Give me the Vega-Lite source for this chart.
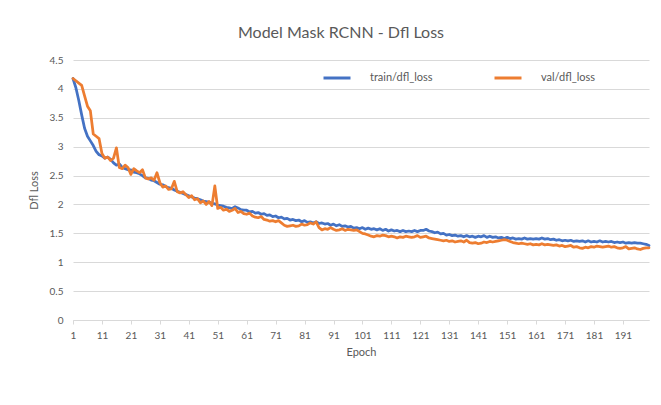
{
  "$schema": "https://vega.github.io/schema/vega-lite/v6.json",
  "width": 576,
  "height": 260,
  "autosize": {"type": "none"},
  "padding": {"left": 73, "top": 60, "right": 12, "bottom": 85},
  "background": "white",
  "config": {
    "font": "Lato",
    "view": {"stroke": null},
    "axis": {"labelColor": "#595959", "titleColor": "#595959", "labelFontSize": 10, "titleFontSize": 11, "titleFontWeight": "normal", "labelFont": "Lato", "titleFont": "Lato"}
  },
  "title": {"text": "Model Mask RCNN - Dfl Loss", "fontSize": 16, "fontWeight": "normal", "color": "#595959", "font": "Lato", "offset": 14, "anchor": "middle", "dx": -20},
  "data": {"values": [
{"epoch":1,"train":4.18,"val":4.18},{"epoch":2,"train":4.02,"val":4.14},{"epoch":3,"train":3.8,"val":4.1},{"epoch":4,"train":3.55,"val":4.06},{"epoch":5,"train":3.32,"val":3.88},
{"epoch":6,"train":3.18,"val":3.7},{"epoch":7,"train":3.1,"val":3.62},{"epoch":8,"train":3.02,"val":3.22},{"epoch":9,"train":2.92,"val":3.18},{"epoch":10,"train":2.86,"val":3.14},
{"epoch":11,"train":2.84,"val":2.88},{"epoch":12,"train":2.8,"val":2.8},{"epoch":13,"train":2.82,"val":2.82},{"epoch":14,"train":2.78,"val":2.76},{"epoch":15,"train":2.72,"val":2.8},
{"epoch":16,"train":2.68,"val":2.98},{"epoch":17,"train":2.7,"val":2.64},{"epoch":18,"train":2.64,"val":2.62},{"epoch":19,"train":2.62,"val":2.68},{"epoch":20,"train":2.6,"val":2.64},
{"epoch":21,"train":2.6,"val":2.52},{"epoch":22,"train":2.56,"val":2.62},{"epoch":23,"train":2.55,"val":2.58},{"epoch":24,"train":2.53,"val":2.55},{"epoch":25,"train":2.5,"val":2.6},
{"epoch":26,"train":2.46,"val":2.46},{"epoch":27,"train":2.45,"val":2.44},{"epoch":28,"train":2.42,"val":2.46},{"epoch":29,"train":2.41,"val":2.42},{"epoch":30,"train":2.38,"val":2.55},
{"epoch":31,"train":2.35,"val":2.38},{"epoch":32,"train":2.34,"val":2.3},{"epoch":33,"train":2.31,"val":2.32},{"epoch":34,"train":2.29,"val":2.26},{"epoch":35,"train":2.28,"val":2.27},
{"epoch":36,"train":2.25,"val":2.4},{"epoch":37,"train":2.23,"val":2.22},{"epoch":38,"train":2.21,"val":2.2},{"epoch":39,"train":2.19,"val":2.22},{"epoch":40,"train":2.17,"val":2.17},
{"epoch":41,"train":2.15,"val":2.12},{"epoch":42,"train":2.13,"val":2.15},{"epoch":43,"train":2.11,"val":2.08},{"epoch":44,"train":2.1,"val":2.1},{"epoch":45,"train":2.08,"val":2.03},
{"epoch":46,"train":2.06,"val":2.06},{"epoch":47,"train":2.05,"val":2.0},{"epoch":48,"train":2.04,"val":2.05},{"epoch":49,"train":2.02,"val":1.98},{"epoch":50,"train":2.01,"val":2.32},
{"epoch":51,"train":1.99,"val":1.93},{"epoch":52,"train":1.98,"val":1.95},{"epoch":53,"train":1.97,"val":1.9},{"epoch":54,"train":1.95,"val":1.92},{"epoch":55,"train":1.94,"val":1.88},
{"epoch":56,"train":1.93,"val":1.9},{"epoch":57,"train":1.96,"val":1.93},{"epoch":58,"train":1.94,"val":1.86},{"epoch":59,"train":1.91,"val":1.88},{"epoch":60,"train":1.9,"val":1.84},
{"epoch":61,"train":1.9,"val":1.83},{"epoch":62,"train":1.87,"val":1.85},{"epoch":63,"train":1.88,"val":1.8},{"epoch":64,"train":1.85,"val":1.78},{"epoch":65,"train":1.86,"val":1.77},
{"epoch":66,"train":1.83,"val":1.79},{"epoch":67,"train":1.84,"val":1.74},{"epoch":68,"train":1.81,"val":1.73},{"epoch":69,"train":1.82,"val":1.71},{"epoch":70,"train":1.79,"val":1.72},
{"epoch":71,"train":1.8,"val":1.7},{"epoch":72,"train":1.77,"val":1.72},{"epoch":73,"train":1.78,"val":1.68},{"epoch":74,"train":1.75,"val":1.64},{"epoch":75,"train":1.76,"val":1.62},
{"epoch":76,"train":1.73,"val":1.63},{"epoch":77,"train":1.74,"val":1.64},{"epoch":78,"train":1.72,"val":1.62},{"epoch":79,"train":1.73,"val":1.63},{"epoch":80,"train":1.7,"val":1.66},
{"epoch":81,"train":1.72,"val":1.64},{"epoch":82,"train":1.69,"val":1.65},{"epoch":83,"train":1.7,"val":1.68},{"epoch":84,"train":1.68,"val":1.66},{"epoch":85,"train":1.7,"val":1.7},
{"epoch":86,"train":1.67,"val":1.6},{"epoch":87,"train":1.68,"val":1.56},{"epoch":88,"train":1.66,"val":1.58},{"epoch":89,"train":1.67,"val":1.57},{"epoch":90,"train":1.64,"val":1.6},
{"epoch":91,"train":1.66,"val":1.57},{"epoch":92,"train":1.63,"val":1.55},{"epoch":93,"train":1.65,"val":1.56},{"epoch":94,"train":1.62,"val":1.58},{"epoch":95,"train":1.63,"val":1.55},
{"epoch":96,"train":1.61,"val":1.57},{"epoch":97,"train":1.62,"val":1.56},{"epoch":98,"train":1.59,"val":1.55},{"epoch":99,"train":1.6,"val":1.56},{"epoch":100,"train":1.58,"val":1.53},
{"epoch":101,"train":1.6,"val":1.5},{"epoch":102,"train":1.57,"val":1.49},{"epoch":103,"train":1.59,"val":1.47},{"epoch":104,"train":1.57,"val":1.45},{"epoch":105,"train":1.58,"val":1.44},
{"epoch":106,"train":1.56,"val":1.46},{"epoch":107,"train":1.58,"val":1.45},{"epoch":108,"train":1.55,"val":1.47},{"epoch":109,"train":1.57,"val":1.46},{"epoch":110,"train":1.54,"val":1.44},
{"epoch":111,"train":1.56,"val":1.45},{"epoch":112,"train":1.54,"val":1.44},{"epoch":113,"train":1.55,"val":1.42},{"epoch":114,"train":1.53,"val":1.44},{"epoch":115,"train":1.55,"val":1.43},
{"epoch":116,"train":1.53,"val":1.45},{"epoch":117,"train":1.54,"val":1.44},{"epoch":118,"train":1.53,"val":1.43},{"epoch":119,"train":1.55,"val":1.44},{"epoch":120,"train":1.53,"val":1.46},
{"epoch":121,"train":1.55,"val":1.43},{"epoch":122,"train":1.55,"val":1.44},{"epoch":123,"train":1.57,"val":1.45},{"epoch":124,"train":1.54,"val":1.42},{"epoch":125,"train":1.53,"val":1.41},
{"epoch":126,"train":1.51,"val":1.4},{"epoch":127,"train":1.52,"val":1.39},{"epoch":128,"train":1.49,"val":1.38},{"epoch":129,"train":1.5,"val":1.37},{"epoch":130,"train":1.47,"val":1.38},
{"epoch":131,"train":1.48,"val":1.36},{"epoch":132,"train":1.46,"val":1.37},{"epoch":133,"train":1.47,"val":1.35},{"epoch":134,"train":1.45,"val":1.36},{"epoch":135,"train":1.46,"val":1.37},
{"epoch":136,"train":1.44,"val":1.35},{"epoch":137,"train":1.46,"val":1.38},{"epoch":138,"train":1.44,"val":1.34},{"epoch":139,"train":1.45,"val":1.33},{"epoch":140,"train":1.43,"val":1.34},
{"epoch":141,"train":1.45,"val":1.32},{"epoch":142,"train":1.44,"val":1.33},{"epoch":143,"train":1.46,"val":1.35},{"epoch":144,"train":1.43,"val":1.34},{"epoch":145,"train":1.45,"val":1.36},
{"epoch":146,"train":1.43,"val":1.35},{"epoch":147,"train":1.44,"val":1.36},{"epoch":148,"train":1.42,"val":1.37},{"epoch":149,"train":1.43,"val":1.38},{"epoch":150,"train":1.41,"val":1.39},
{"epoch":151,"train":1.43,"val":1.38},{"epoch":152,"train":1.41,"val":1.36},{"epoch":153,"train":1.42,"val":1.34},{"epoch":154,"train":1.4,"val":1.33},{"epoch":155,"train":1.41,"val":1.32},
{"epoch":156,"train":1.4,"val":1.33},{"epoch":157,"train":1.42,"val":1.32},{"epoch":158,"train":1.4,"val":1.31},{"epoch":159,"train":1.41,"val":1.32},{"epoch":160,"train":1.4,"val":1.3},
{"epoch":161,"train":1.41,"val":1.31},{"epoch":162,"train":1.4,"val":1.3},{"epoch":163,"train":1.42,"val":1.32},{"epoch":164,"train":1.4,"val":1.3},{"epoch":165,"train":1.41,"val":1.31},
{"epoch":166,"train":1.39,"val":1.3},{"epoch":167,"train":1.4,"val":1.29},{"epoch":168,"train":1.38,"val":1.3},{"epoch":169,"train":1.39,"val":1.28},{"epoch":170,"train":1.37,"val":1.29},
{"epoch":171,"train":1.38,"val":1.27},{"epoch":172,"train":1.37,"val":1.28},{"epoch":173,"train":1.38,"val":1.29},{"epoch":174,"train":1.36,"val":1.26},{"epoch":175,"train":1.37,"val":1.27},
{"epoch":176,"train":1.36,"val":1.25},{"epoch":177,"train":1.37,"val":1.24},{"epoch":178,"train":1.35,"val":1.26},{"epoch":179,"train":1.37,"val":1.25},{"epoch":180,"train":1.35,"val":1.27},
{"epoch":181,"train":1.36,"val":1.26},{"epoch":182,"train":1.35,"val":1.28},{"epoch":183,"train":1.37,"val":1.27},{"epoch":184,"train":1.35,"val":1.26},{"epoch":185,"train":1.36,"val":1.27},
{"epoch":186,"train":1.35,"val":1.28},{"epoch":187,"train":1.36,"val":1.26},{"epoch":188,"train":1.34,"val":1.27},{"epoch":189,"train":1.35,"val":1.25},{"epoch":190,"train":1.34,"val":1.24},
{"epoch":191,"train":1.35,"val":1.25},{"epoch":192,"train":1.33,"val":1.27},{"epoch":193,"train":1.34,"val":1.23},{"epoch":194,"train":1.33,"val":1.24},{"epoch":195,"train":1.34,"val":1.25},
{"epoch":196,"train":1.33,"val":1.23},{"epoch":197,"train":1.33,"val":1.22},{"epoch":198,"train":1.32,"val":1.24},{"epoch":199,"train":1.31,"val":1.25},{"epoch":200,"train":1.29,"val":1.25}
  ]},
  "transform": [{"fold": ["train", "val"], "as": ["series", "loss"]}],
  "mark": {"type": "line", "strokeWidth": 2.75, "strokeJoin": "round", "strokeCap": "round"},
  "encoding": {
    "x": {
      "field": "epoch", "type": "quantitative",
      "scale": {"domain": [1, 200], "nice": false, "zero": false},
      "axis": {"title": "Epoch", "values": [1,11,21,31,41,51,61,71,81,91,101,111,121,131,141,151,161,171,181,191], "grid": false, "domainColor": "#d9d9d9", "tickColor": "#d9d9d9", "tickSize": 4, "labelPadding": 6, "titlePadding": 6, "labelFlush": false}
    },
    "y": {
      "field": "loss", "type": "quantitative",
      "scale": {"domain": [0, 4.5], "nice": false},
      "axis": {"title": "Dfl Loss", "values": [0,0.5,1,1.5,2,2.5,3,3.5,4,4.5], "format": "~g", "grid": true, "gridColor": "#d9d9d9", "domain": false, "ticks": false, "labelPadding": 10, "titlePadding": 10}
    },
    "color": {
      "field": "series", "type": "nominal",
      "scale": {"domain": ["train", "val"], "range": ["#4472C4", "#ED7D31"]},
      "legend": {"title": null, "orient": "none", "legendX": 249, "legendY": 3, "direction": "horizontal", "symbolType": "stroke", "symbolSize": 729, "symbolStrokeWidth": 3, "labelExpr": "datum.label + '/dfl_loss'", "labelFontSize": 11, "labelColor": "#595959", "labelFont": "Lato", "labelOffset": 18, "columnPadding": 55}
    }
  }
}
